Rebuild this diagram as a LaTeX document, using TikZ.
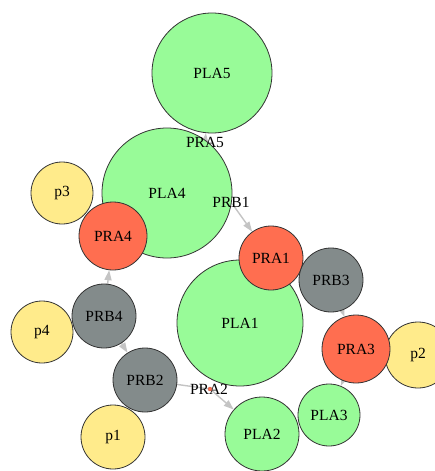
\documentclass[tikz,border=0pt]{standalone}
\usepackage{fontspec}
\setmainfont{Liberation Serif}
\usetikzlibrary{arrows.meta, backgrounds}
\definecolor{netgreen}{HTML}{98FB98}
\definecolor{netred}{HTML}{FF6E50}
\definecolor{netgray}{HTML}{838B8B}
\definecolor{netyellow}{HTML}{FFEB8B}
\definecolor{netedge}{HTML}{C4C4C4}

\tikzset{
  netnode/.style={circle, draw=black!80, line width=0.8pt, inner sep=0pt,
                  font=\fontsize{15.5}{17}\selectfont},
  plabox/.style={netnode, fill=netgreen},
  prabox/.style={netnode, fill=netred},
  prbbox/.style={netnode, fill=netgray},
  pbox/.style={netnode, fill=netyellow},
  tinybox/.style={circle, inner sep=0pt, minimum size=4pt},
  tinylabel/.style={font=\fontsize{15.5}{17}\selectfont, inner sep=0pt},
  netarrow/.style={draw=netedge, line width=1.4pt,
                   -{Triangle[length=10pt, width=7pt]}, color=netedge}
}

\begin{document}
\begin{tikzpicture}[x=1pt, y=-1pt]
  \useasboundingbox (0,0) rectangle (434,471);

  % places and transitions
  \node[plabox, minimum size=120pt] (PLA5) at (212,73) {PLA5};
  \node[plabox, minimum size=130pt] (PLA4) at (167,193) {PLA4};
  \node[plabox, minimum size=126pt] (PLA1) at (240,323) {PLA1};
  \node[plabox, minimum size=74pt] (PLA2) at (262,434) {PLA2};
  \node[plabox, minimum size=62pt] (PLA3) at (329,415) {PLA3};
  \node[pbox, minimum size=62pt] (p3) at (62,193) {p3};
  \node[pbox, minimum size=62pt] (p4) at (42,332) {p4};
  \node[pbox, minimum size=64pt] (p1) at (113,437) {p1};
  \node[pbox, minimum size=66pt] (p2) at (418,355) {p2};
  \node[prabox, minimum size=68pt] (PRA4) at (113,236) {PRA4};
  \node[prabox, minimum size=64pt] (PRA1) at (271,258) {PRA1};
  \node[prabox, minimum size=68pt] (PRA3) at (356,349) {PRA3};
  \node[prbbox, minimum size=64pt] (PRB3) at (331,280) {PRB3};
  \node[prbbox, minimum size=64pt] (PRB4) at (104,316) {PRB4};
  \node[prbbox, minimum size=64pt] (PRB2) at (145,380) {PRB2};

  % small transitions
  \node[tinybox] (PRA5) at (205,142) {};
  \node[tinylabel] (PRA5label) at (PRA5) {PRA5};
  \node[tinybox] (PRB1) at (231,202) {};
  \node[tinylabel] (PRB1label) at (PRB1) {PRB1};
  \node[tinylabel] (PRA2label) at (209,389) {PRA2};
  \node[tinybox, fill=netred, draw=netred!70!black, line width=0.3pt] (PRA2) at (210,389) {};

  % connectors
  \begin{scope}[on background layer]
    \draw[netarrow] (PRA5) -- (PLA5);
    \draw[netarrow] (PRB1) -- (PRA1);
    \draw[netarrow] (PRB3) -- (PRA3);
    \draw[netarrow] (PRA3) -- (PLA3);
    \draw[netarrow] (PRB4) -- (PRA4);
    \draw[netarrow] (PRB4) -- (PRB2);
    \draw[netarrow] (PRB2) -- (p1);
    \draw[draw=netedge, line width=1.4pt] (PRB2) -- (PRA2);
    \draw[netarrow] (PRA2) -- (PLA2);
  \end{scope}
\end{tikzpicture}
\end{document}
